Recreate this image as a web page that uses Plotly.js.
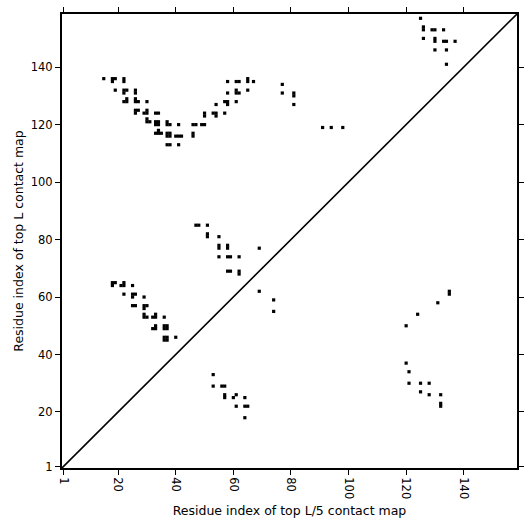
<!DOCTYPE html>
<html>
<head>
<meta charset="utf-8">
<script src="https://cdn.plot.ly/plotly-3.0.1.min.js"></script>
<style>html,body{margin:0;padding:0;background:#fff;}#chart{width:531px;height:531px;}</style>
</head>
<body>
<div id="chart"></div>
<script>
// sequence length
const seqLength = 158;
const tickValues = [1, 20, 40, 60, 80, 100, 120, 140];

// top L contacts (upper triangle): residue i (x) and residue j (y)
const topLx = [15, 18,19,18, 22,22, 19, 22,23,22, 26,26, 23,22,23, 26,26,27, 30,
  26,27,26, 30,29,30, 33,34, 30,30,31, 33,34,33,34, 37,37,38, 41, 46,47,49,50,
  50,50, 53,54,54, 57, 34,33,34,35, 37,38,37,38, 40,41,42, 46,46, 37,38, 41,
  58,61,62,65,65,67, 77, 58,61,61,62,65, 77,81,81,81, 54,57,58,58,61,
  91,94,98,
  125,126,126,129,130,133, 126,130,130,133,134,137, 130,134,134,
  18,19,18,22,21,22,25, 22,25,26,25,29, 25,26,29,30,29,
  29,29,30,33,32,33,36, 32,33,33,36,37,36,37, 36,37,36,37,40,
  47,48,51,51,51,55, 55,55,58,58,69, 55,58,59,62, 58,59,62,62];
const topLy = [136, 136,136,135, 136,135, 132, 132,132,131, 132,131, 129,128,128, 129,128,128, 128,
  125,125,124, 125,124,124, 124,124, 122,121,121, 121,121,120,120, 121,120,120, 120, 120,120,120,120,
  124,123, 124,124,123, 124, 118,117,117,117, 117,117,116,116, 116,116,116, 117,116, 113,113, 113,
  135,135,135,136,135,135, 134, 131,132,131,131,132, 131,131,130,127, 127,128,128,127,128,
  119,119,119,
  157,154,153,153,153,153, 150,150,149,149,149,149, 146,146,141,
  65,65,64,65,64,64,64, 61,61,61,60,60, 57,57,57,57,56,
  54,53,53,54,53,53,53, 49,49,50,50,50,49,49, 46,46,45,45,46,
  85,85,85,82,81,81, 78,77,78,77,77, 74,74,74,74, 69,69,69,68];

// top L/5 contacts (lower triangle)
const topL5x = [53,53,56,57,57,57,61,60,64,61,64,65,64, 69,74,74,
  120,124,131,135,135,120,121,121,125,128,125,128,132,132,132];
const topL5y = [33,29,29,29,26,25,26,25,25,22,22,22,18, 62,59,55,
  50,54,58,62,61,37,34,30,30,30,27,26,26,23,22];

const lo = 0.5, hi = seqLength + 0.5;
const markerStyle = {symbol: 'square', size: 3.2, color: '#000', line: {width: 0}};

const traces = [
  {x: [lo, hi], y: [lo, hi], mode: 'lines', line: {color: '#000', width: 1.6}, hoverinfo: 'skip', showlegend: false},
  {x: topLx, y: topLy, mode: 'markers', type: 'scatter', marker: markerStyle, name: 'top L', showlegend: false},
  {x: topL5x, y: topL5y, mode: 'markers', type: 'scatter', marker: markerStyle, name: 'top L/5', showlegend: false}
];

const axisCommon = {
  range: [lo, hi],
  tickvals: tickValues,
  ticktext: tickValues.map(String),
  ticks: 'outside',
  ticklen: 5,
  tickwidth: 1,
  tickcolor: '#000',
  showline: true,
  linecolor: '#000',
  linewidth: 2,
  mirror: 'ticks',
  showgrid: false,
  zeroline: false,
  tickfont: {family: 'DejaVu Sans', size: 11.5, color: '#000'}
};

const layout = {
  width: 531, height: 531,
  margin: {l: 62, r: 14, t: 14, b: 63},
  paper_bgcolor: '#fff', plot_bgcolor: '#fff',
  showlegend: false,
  xaxis: Object.assign({}, axisCommon, {
    tickangle: 90,
    title: {text: 'Residue index of top L/5 contact map', font: {family: 'DejaVu Sans', size: 12.5, color: '#000'}, standoff: 8}
  }),
  yaxis: Object.assign({}, axisCommon, {
    title: {text: 'Residue index of top L contact map', font: {family: 'DejaVu Sans', size: 12.5, color: '#000'}, standoff: 4}
  })
};

Plotly.newPlot('chart', traces, layout, {displayModeBar: false, staticPlot: true});
</script>
</body>
</html>
